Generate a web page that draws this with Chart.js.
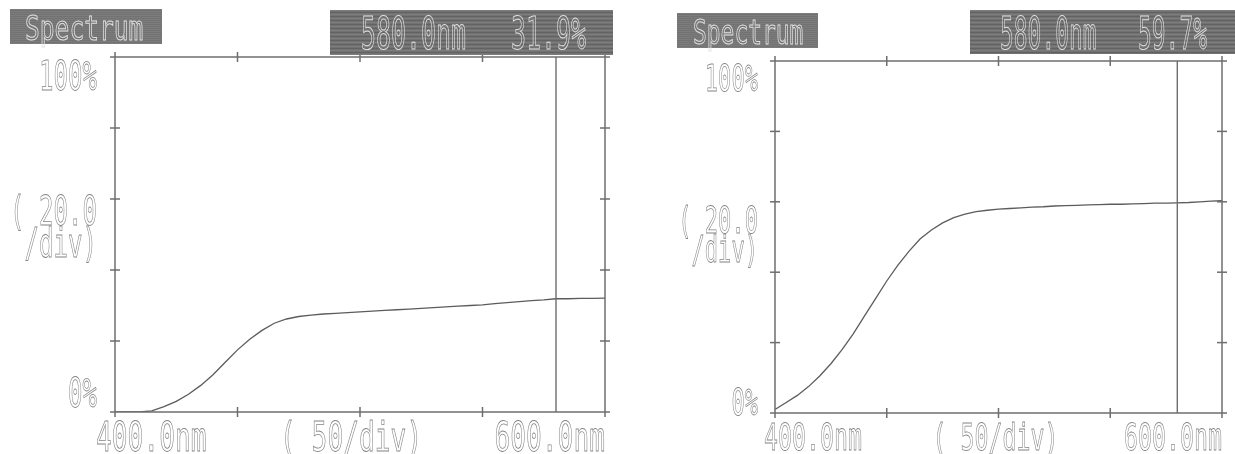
<!DOCTYPE html>
<html>
<head>
<meta charset="utf-8">
<script src="https://cdn.jsdelivr.net/npm/chart.js@4.4.1/dist/chart.umd.min.js"></script>
<style>
  html, body { margin: 0; padding: 0; background: #ffffff; }
  #wrap { position: relative; width: 1235px; height: 454px; overflow: hidden; }
  canvas { position: absolute; top: 0; }
</style>
</head>
<body>
<div id="wrap">
  <canvas id="specA" width="618" height="454" style="left:0px"></canvas>
  <canvas id="specB" width="617" height="454" style="left:618px"></canvas>
</div>
<script>
// Wavelength grid (nm)
const wavelengths = [400, 405, 410, 415, 420, 425, 430, 435, 440, 445, 450, 455, 460, 465, 470,
  475, 480, 485, 490, 495, 500, 505, 510, 515, 520, 525, 530, 535, 540, 545, 550, 555, 560,
  565, 570, 575, 580, 585, 590, 595, 600];

// Transmittance (%) of the two samples
const sampleA = [0, 0, 0, 0.3, 1.5, 3.0, 5.0, 7.5, 10.5, 14.0, 17.5, 20.5, 23.0, 25.0, 26.2,
  26.9, 27.3, 27.6, 27.8, 28.0, 28.2, 28.4, 28.6, 28.8, 29.0, 29.2, 29.4, 29.6, 29.8, 30.0,
  30.2, 30.5, 30.8, 31.1, 31.4, 31.6, 31.9, 31.9, 32.0, 32.0, 32.1];
const sampleB = [1.0, 3.0, 5.0, 7.5, 10.5, 14.0, 18.0, 22.5, 27.5, 32.5, 37.5, 42.0, 46.0, 49.5, 52.0,
  54.0, 55.5, 56.5, 57.2, 57.6, 57.9, 58.1, 58.3, 58.5, 58.6, 58.8, 58.9, 59.0, 59.1, 59.2,
  59.3, 59.3, 59.4, 59.5, 59.6, 59.6, 59.7, 59.8, 60.0, 60.2, 60.3];

// Cursor position and its readouts
const cursorNm = 580.0;
const readoutA = 31.9;
const readoutB = 59.7;

// Axis divisions and labels
const xTicks = [400, 450, 500, 550, 600];
const yTicks = [0, 20, 40, 60, 80, 100];
const xLabels = ['400.0nm', '( 50/div)', '600.0nm'];
const yLabels = ['100%', '( 20.0', '/div)', '0%'];
const titleText = 'Spectrum';

const INK = '#6e6e6e';
const TXT = '#858585';

// Condensed monospace text, drawn as thin outlines like the instrument's screen font
function monoText(ctx, text, x, y, size, cell, align, color, lw) {
  ctx.save();
  ctx.font = size + 'px "DejaVu Sans Mono"';
  const natural = ctx.measureText(text).width;
  const w = cell * text.length;
  const sx = w / natural;
  let x0 = x;
  if (align === 'right') x0 = x - w;
  else if (align === 'center') x0 = x - w / 2;
  ctx.translate(x0, y);
  ctx.scale(sx, 1);
  ctx.textAlign = 'left';
  ctx.textBaseline = 'alphabetic';
  ctx.strokeStyle = color;
  ctx.lineWidth = lw;
  ctx.strokeText(text, 0, 0);
  ctx.restore();
}

// Grey banner with scan-line texture
function banner(ctx, x, y, w, h) {
  ctx.save();
  ctx.fillStyle = '#727272';
  ctx.fillRect(x, y, w, h);
  for (let yy = y; yy < y + h; yy += 2) {
    ctx.fillStyle = (yy % 4 === 0) ? 'rgba(40,40,40,0.22)' : 'rgba(160,160,160,0.22)';
    ctx.fillRect(x, yy, w, 1);
  }
  ctx.restore();
}

function line(ctx, x1, y1, x2, y2) {
  ctx.beginPath(); ctx.moveTo(x1, y1); ctx.lineTo(x2, y2); ctx.stroke();
}

const screenPlugin = {
  id: 'screen',
  afterDraw(chart, args, o) {
    const ctx = chart.ctx;
    const xs = chart.scales.x, ys = chart.scales.y;
    const L = xs.getPixelForValue(400), R = xs.getPixelForValue(600);
    const T = ys.getPixelForValue(100), B = ys.getPixelForValue(0);

    ctx.save();
    ctx.strokeStyle = INK;
    ctx.lineWidth = 1.5;
    // frame, with the corners crossing slightly
    line(ctx, L - 5, T, R + 5, T);
    line(ctx, L - 5, B, R + 5, B);
    line(ctx, L, T - 5, L, B + 5);
    line(ctx, R, T - 5, R, B + 5);
    // division marks on all four sides
    xTicks.slice(1, -1).forEach(v => {
      const px = xs.getPixelForValue(v);
      line(ctx, px, T - 5, px, T + 5);
      line(ctx, px, B - 5, px, B + 5);
    });
    yTicks.slice(1, -1).forEach(v => {
      const py = ys.getPixelForValue(v);
      line(ctx, L - 5, py, L + 5, py);
      line(ctx, R - 5, py, R + 5, py);
    });
    // wavelength cursor
    const cx = xs.getPixelForValue(cursorNm);
    ctx.lineWidth = 1.4;
    line(ctx, cx, T, cx, B);
    ctx.restore();

    // banners
    const b = o.banner;
    banner(ctx, b.tx, b.ty, b.tw, b.th);
    monoText(ctx, titleText, b.ttx, b.tty, b.tsize, b.tcell, 'left', '#e2e2e2', 1.0);
    banner(ctx, b.vx, b.vy, b.vw, b.vh);
    const readout = cursorNm.toFixed(1) + 'nm   ' + o.readout.toFixed(1) + '%';
    monoText(ctx, readout, b.vtx, b.vty, b.vsize, b.vcell, 'left', '#e2e2e2', 1.0);

    // axis texts
    const a = o.axis;
    const y60 = ys.getPixelForValue(60);
    monoText(ctx, yLabels[0], L + a.yRight, T + a.y100, a.size, a.ycell, 'right', TXT, 0.8);
    monoText(ctx, yLabels[1], L + a.yRight, y60 + a.yDiv1, a.size, a.ycell, 'right', TXT, 0.8);
    monoText(ctx, yLabels[2], L + a.yRight, y60 + a.yDiv2, a.size, a.ycell, 'right', TXT, 0.8);
    monoText(ctx, yLabels[3], L + a.yRight, B + a.y0, a.size, a.ycell, 'right', TXT, 0.8);
    const base = B + a.xBase;
    monoText(ctx, xLabels[0], L + a.x400, base, a.size, a.xcell, 'left', TXT, 0.8);
    monoText(ctx, xLabels[1], xs.getPixelForValue(500) + a.xMid, base, a.size, a.xcell, 'left', TXT, 0.8);
    monoText(ctx, xLabels[2], R + a.x600, base, a.size, a.xcell, 'right', TXT, 0.8);
  }
};

function makeChart(id, values, readout, pad, opts) {
  return new Chart(document.getElementById(id), {
    type: 'line',
    data: {
      datasets: [{
        data: wavelengths.map((w, i) => ({ x: w, y: values[i] })),
        borderColor: '#5c5c5c',
        borderWidth: 1.3,
        pointRadius: 0,
        tension: 0,
        fill: false
      }]
    },
    options: {
      responsive: false,
      animation: false,
      events: [],
      layout: { padding: pad },
      plugins: {
        legend: { display: false },
        tooltip: { enabled: false },
        screen: Object.assign({ readout: readout }, opts)
      },
      scales: {
        x: { type: 'linear', min: 400, max: 600, display: false },
        y: { type: 'linear', min: 0, max: 100, display: false }
      }
    },
    plugins: [screenPlugin]
  });
}

makeChart('specA', sampleA, readoutA,
  { left: 115, right: 13, top: 57, bottom: 42 },
  {
    banner: { tx: 10, ty: 9, tw: 152, th: 35, ttx: 25, tty: 40, tsize: 34, tcell: 14.8,
              vx: 330, vy: 10, vw: 283, vh: 45, vtx: 361, vty: 49, vsize: 44, vcell: 15 },
    axis: { size: 40, ycell: 14.5, xcell: 15.8, yRight: -18, y100: 33, yDiv1: 26, yDiv2: 58,
            y0: -5, xBase: 39, x400: -19, xMid: -80, x600: 0 }
  });

makeChart('specB', sampleB, readoutB,
  { left: 157, right: 13, top: 61, bottom: 41 },
  {
    banner: { tx: 59, ty: 13, tw: 141, th: 35, ttx: 75, tty: 44, tsize: 34, tcell: 13.8,
              vx: 352, vy: 10, vw: 265, vh: 44, vtx: 382, vty: 49, vsize: 44, vcell: 13.8 },
    axis: { size: 38, ycell: 13.3, xcell: 14.0, yRight: -17, y100: 30, yDiv1: 31, yDiv2: 60,
            y0: 2, xBase: 37, x400: -11, xMid: -66, x600: 0 }
  });
</script>
</body>
</html>
